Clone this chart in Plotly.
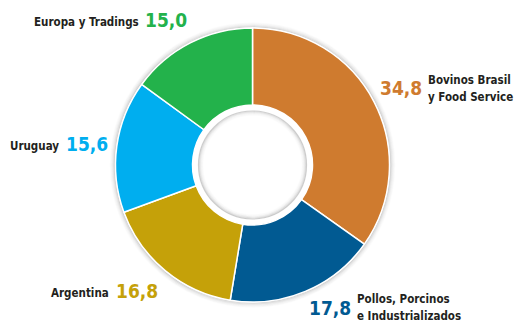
import plotly.graph_objects as go

# Segment data (share of total, %)
segments = ["Bovinos Brasil y Food Service", "Pollos, Porcinos e Industrializados",
            "Argentina", "Uruguay", "Europa y Tradings"]
shares = [34.8, 17.8, 16.8, 15.6, 15.0]
share_labels = ["34,8", "17,8", "16,8", "15,6", "15,0"]
colors = ["#CF7B2F", "#015A92", "#C5A109", "#00AEEF", "#23B24B"]

W, H = 516, 327
CX, CY = 252.5, 165.0      # donut centre in pixels
R_OUT = 137.0
R_HOLE = 60.0

def px(x):
    return x / W

def py(y):
    return 1 - y / H

fig = go.Figure(go.Pie(
    labels=segments,
    values=shares,
    sort=False,
    direction="clockwise",
    rotation=0,
    hole=R_HOLE / R_OUT,
    marker=dict(colors=colors, line=dict(color="white", width=1.5)),
    textinfo="none",
    hoverinfo="label+value",
    showlegend=False,
    domain=dict(x=[px(CX - R_OUT), px(CX + R_OUT)],
                y=[py(CY + R_OUT), py(CY - R_OUT)]),
))

shapes = []

def ring(r, color, width, opacity):
    shapes.append(dict(
        type="circle", xref="paper", yref="paper", layer="below",
        x0=px(CX - r), x1=px(CX + r), y0=py(CY + r), y1=py(CY - r),
        line=dict(color=color, width=width), opacity=opacity,
    ))

# soft shadow around the outer edge
for i, op in enumerate([0.35, 0.22, 0.13, 0.07, 0.03]):
    ring(R_OUT + 1 + i, "#888888", 1.2, op)

# recessed inner disc inside the hole
for i, op in enumerate([0.4, 0.24, 0.13, 0.06, 0.03]):
    ring(54 - i, "#8a8a8a", 1.2, op)

fig.update_layout(shapes=shapes)

DARK = "#231F20"
FONT = "DejaVu Sans Condensed, Liberation Sans Narrow, Arial Narrow, sans-serif"
NAME_SIZE = 11.5
NUM_SIZE = 19

annotations = []

def text(x, y, s, color, size, xanchor):
    annotations.append(dict(
        x=px(x), y=py(y), xref="paper", yref="paper",
        text="<b>" + s + "</b>", showarrow=False,
        xanchor=xanchor, yanchor="middle",
        font=dict(family=FONT, size=size, color=color),
    ))

# Europa y Tradings
text(141, 22, "Europa y Tradings", DARK, NAME_SIZE, "right")
text(143, 20, share_labels[4], colors[4], NUM_SIZE, "left")
# Bovinos Brasil y Food Service
text(424, 88, share_labels[0], colors[0], NUM_SIZE, "right")
text(426, 80, "Bovinos Brasil", DARK, NAME_SIZE, "left")
text(426, 97, "y Food Service", DARK, NAME_SIZE, "left")
# Pollos, Porcinos e Industrializados
text(353, 308, share_labels[1], colors[1], NUM_SIZE, "right")
text(355, 299, "Pollos, Porcinos", DARK, NAME_SIZE, "left")
text(355, 316, "e Industrializados", DARK, NAME_SIZE, "left")
# Uruguay
text(61, 146, "Uruguay", DARK, NAME_SIZE, "right")
text(64, 144, share_labels[3], colors[3], NUM_SIZE, "left")
# Argentina
text(111, 293, "Argentina", DARK, NAME_SIZE, "right")
text(114, 291, share_labels[2], colors[2], NUM_SIZE, "left")

fig.update_layout(
    annotations=annotations,
    width=W, height=H,
    margin=dict(l=0, r=0, t=0, b=0),
    paper_bgcolor="white",
    plot_bgcolor="white",
)

fig.write_html("out.html")
